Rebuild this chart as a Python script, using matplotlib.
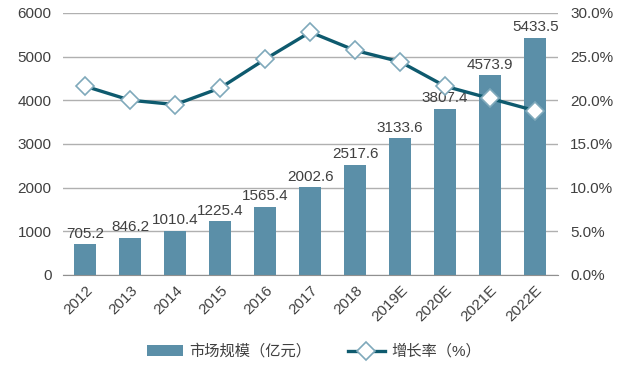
import numpy as np
import matplotlib.pyplot as plt
from matplotlib.ticker import FuncFormatter

plt.rcParams['font.family'] = ['Liberation Sans', 'Noto Sans CJK SC', 'DejaVu Sans']

years = ['2012', '2013', '2014', '2015', '2016', '2017', '2018',
         '2019E', '2020E', '2021E', '2022E']
market = [705.2, 846.2, 1010.4, 1225.4, 1565.4, 2002.6, 2517.6,
          3133.6, 3807.4, 4573.9, 5433.5]
growth = [21.6, 20.0, 19.5, 21.4, 24.7, 27.8, 25.7, 24.4, 21.6, 20.2, 18.8]

txt = '#404040'
x = np.arange(len(years))

fig = plt.figure(figsize=(6.21, 3.68), dpi=100)
ax = fig.add_axes([0.101, 0.253, 0.797, 0.712])
ax2 = ax.twinx()

bars = ax.bar(x, market, width=0.5, color='#5b8fa8', zorder=2,
              label='市场规模（亿元）')
for xi, v in zip(x, market):
    ax.text(xi, v + 80, f'{v:.1f}', ha='center', va='bottom',
            fontsize=11, color=txt, zorder=5)

ax.set_ylim(0, 6000)
ax.set_yticks(range(0, 6001, 1000))
ax.set_xlim(-0.5, len(years) - 0.5)
ax.set_xticks(x)
ax.set_xticklabels(years, rotation=45, ha='right', rotation_mode='anchor')
ax.grid(axis='y', color='#b0b0b0', lw=1, zorder=0)
ax.set_axisbelow(True)

ln, = ax2.plot(x, growth, color='#0e5a6e', lw=2.4, marker='D', ms=9,
               mfc='white', mec='#7fa9bb', mew=1.2, zorder=4,
               label='增长率（%）')
ax2.set_ylim(0, 30)
ax2.set_yticks(range(0, 31, 5))
ax2.yaxis.set_major_formatter(FuncFormatter(lambda v, p: f'{v:.1f}%'))

for a in (ax, ax2):
    for s in a.spines.values():
        s.set_visible(False)
    a.tick_params(length=0, labelsize=11, colors=txt)
ax.spines['bottom'].set_visible(True)
ax.spines['bottom'].set_color('#909090')
ax.tick_params(axis='x', pad=6)
ax.tick_params(axis='y', pad=8)
ax2.tick_params(axis='y', pad=9)

# line above the bars
ax.set_zorder(0)
ax2.set_zorder(1)
ax2.patch.set_visible(False)

fig.legend(handles=[bars, ln], loc='center', bbox_to_anchor=(0.505, 0.045),
           ncol=2, frameon=False, fontsize=11, labelcolor=txt,
           handlelength=2.4, handletextpad=0.4, columnspacing=2.4)

fig.savefig('out.png', dpi=100)
